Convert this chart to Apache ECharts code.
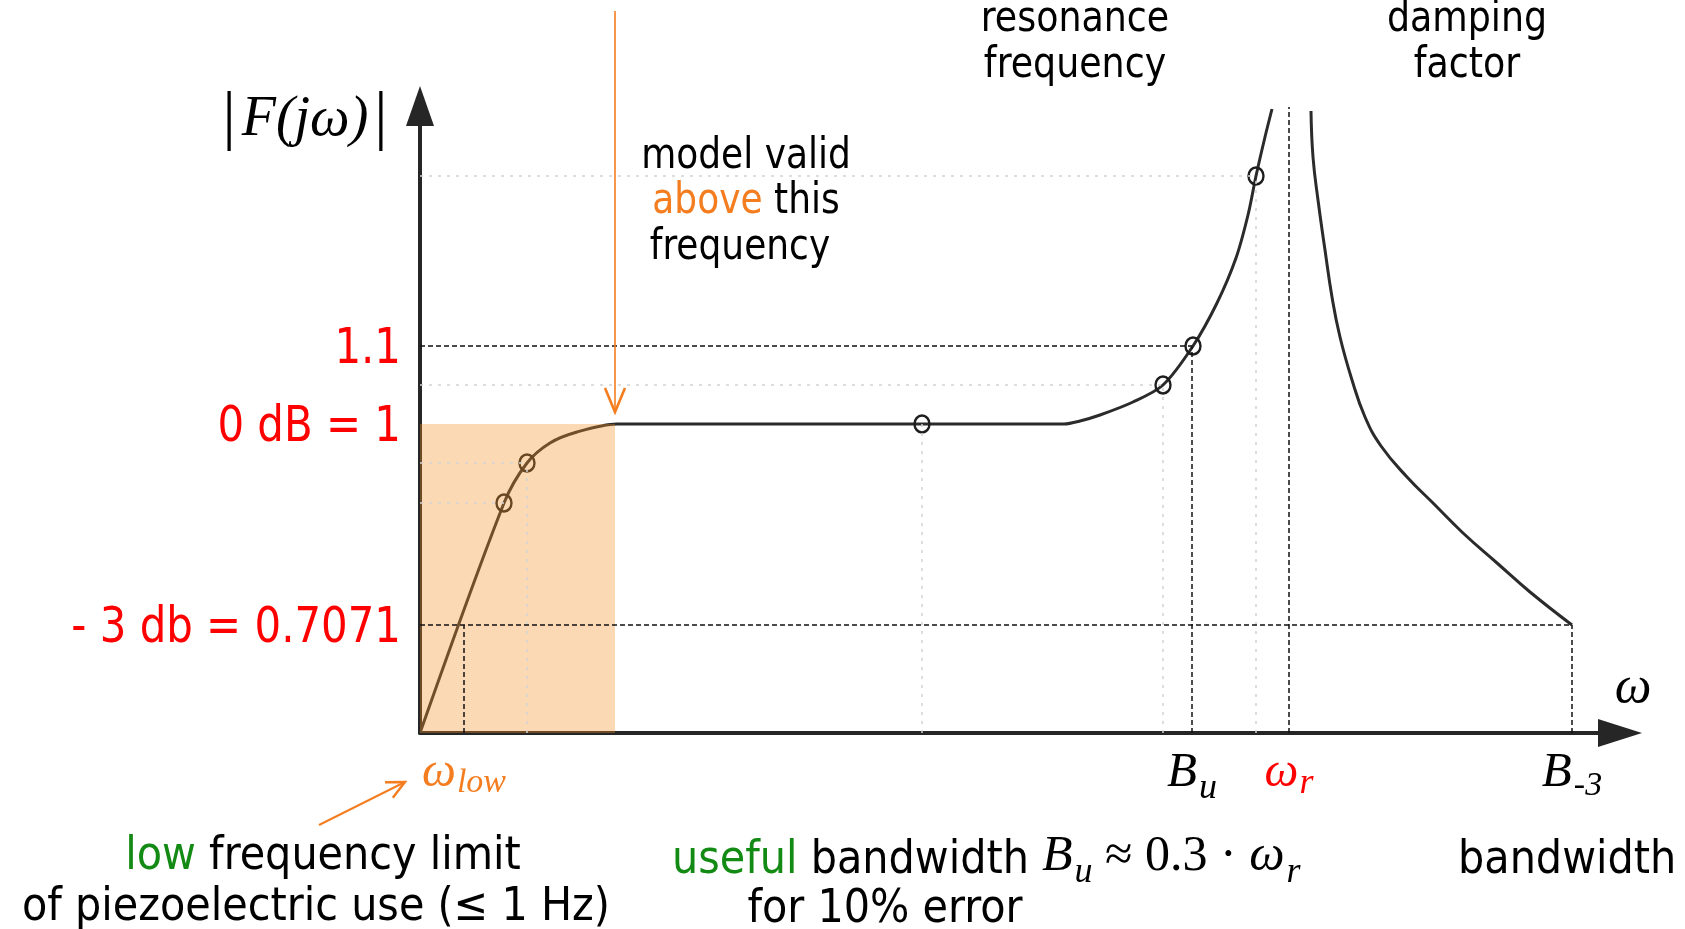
<!DOCTYPE html>
<html>
<head>
<meta charset="utf-8">
<title>Piezoelectric sensor frequency response</title>
<script src="https://cdn.jsdelivr.net/npm/echarts@6.0.0/dist/echarts.min.js"></script>
<style>
html, body { margin: 0; padding: 0; background: #fff; }
#chart { width: 1685px; height: 929px; }
</style>
</head>
<body>
<div id="chart"></div>
<script>
// schematic units: x = distance right of the |F| axis, y = height above the omega axis
var responseRise = [[0, 0], [84, 230], [107, 270], [130, 290], [157, 301], [197, 309],
  [502, 309], [644, 309], [660, 312], [680, 318], [713, 331], [743, 348], [773, 387], [797, 430],
  [816, 475], [828, 518], [836, 557], [845, 596], [852, 624]];
var responseFall = [[891, 622], [893, 576], [898, 533], [905, 483], [912, 436], [920, 396], [932, 353],
  [945, 316], [961, 287], [987, 256], [1013, 230], [1043, 200], [1077, 170], [1110, 141], [1152, 108]];
var markedPoints = [[84, 230], [107, 270], [502, 309], [743, 348], [773, 387], [836, 557]];

var levelValues = [108, 309, 387];
var levelLabels = ['- 3 db = 0.7071', '0 dB = 1', '1.1'];
var freqValues = [44, 772, 869, 1152];
var freqLabels = ['{wo|ω}{so|low}', '{b|B}{s|u}', '{wr|ω}{sr|r}', '{b|B}{s3|-3}'];
var modelValidFreq = 195;
var resonanceTop = 626;

var SANS = '"DejaVu Sans Condensed", "DejaVu Sans", sans-serif';
var SERIF = '"Liberation Serif", "DejaVu Serif", serif';
var INK = '#262626';
var ORANGE = '#f47d20';
var RED = '#ff0000';
var GREEN = '#138a13';

var chart = echarts.init(document.getElementById('chart'));

function guide(x1, y1, x2, y2, style) {
  return [{ coord: [x1, y1], lineStyle: style }, { coord: [x2, y2] }];
}
var darkThin = { color: '#111', width: 1.5, type: [5, 3] };
var light = { color: '#d2d2d2', width: 1.5, type: [3, 6] };
var p = markedPoints;

var darkGuides = [
  guide(0, levelValues[2], freqValues[1], levelValues[2], darkThin),
  guide(freqValues[1], 0, freqValues[1], levelValues[2], darkThin),
  guide(0, levelValues[0], freqValues[3], levelValues[0], darkThin),
  guide(freqValues[0], 0, freqValues[0], levelValues[0], darkThin),
  guide(freqValues[3], 0, freqValues[3], levelValues[0], darkThin),
  guide(freqValues[2], 0, freqValues[2], resonanceTop, darkThin)
];
var lightGuides = [
  guide(0, p[5][1], p[5][0], p[5][1], light), guide(p[5][0], 0, p[5][0], p[5][1], light),
  guide(0, p[3][1], p[3][0], p[3][1], light), guide(p[3][0], 0, p[3][0], p[3][1], light),
  guide(0, p[1][1], p[1][0], p[1][1], light), guide(p[1][0], 0, p[1][0], p[1][1], light),
  guide(0, p[0][1], p[0][0], p[0][1], light), guide(p[2][0], 0, p[2][0], p[2][1], light)
];

// text placed at (x, y); sx squeezes it horizontally like the narrow slide font
function txt(x, y, text, size, sx, align, rich) {
  return {
    type: 'text', x: x, y: y, scaleX: sx, silent: true, z: 10,
    style: {
      text: text, fontSize: size, fontFamily: SANS, fill: '#000',
      align: align || 'center', verticalAlign: 'middle', rich: rich || {}
    }
  };
}

var bottomRich = {
  g: { fill: GREEN, fontSize: 46, fontFamily: SANS },
  t: { fill: '#000', fontSize: 46, fontFamily: SANS },
  mi: { fill: '#000', fontSize: 50, fontFamily: SERIF, fontStyle: 'italic', verticalAlign: 'top', padding: [1, 0, 0, 0] },
  m: { fill: '#000', fontSize: 50, fontFamily: SERIF, verticalAlign: 'top', padding: [1, 0, 0, 0] },
  ms: { fill: '#000', fontSize: 36, fontFamily: SERIF, fontStyle: 'italic', verticalAlign: 'top', padding: [24, 0, 0, 2] }
};

// little orange arrow from the caption to omega_low
var a0 = [319, 825], a1 = [405, 782];
var ang = Math.atan2(a1[1] - a0[1], a1[0] - a0[0]);
function wing(s) {
  return [a1[0] - 20 * Math.cos(ang + s * 0.45), a1[1] - 20 * Math.sin(ang + s * 0.45)];
}

var option = {
  backgroundColor: '#fff',
  animation: false,
  grid: { left: 420, right: 65, top: 106, bottom: 196, containLabel: false, outerBoundsMode: 'none' },
  xAxis: {
    type: 'value', min: 0, max: 1200,
    axisLine: { show: true, symbol: ['none', 'triangle'], symbolSize: [28, 44], lineStyle: { color: INK, width: 4 } },
    axisTick: { show: false },
    splitLine: { show: false },
    axisLabel: {
      customValues: freqValues, margin: 16,
      formatter: function (v) { return freqLabels[freqValues.indexOf(v)] || ''; },
      rich: {
        b: { fontFamily: SERIF, fontStyle: 'italic', fontSize: 49, color: '#000', verticalAlign: 'top' },
        s: { fontFamily: SERIF, fontStyle: 'italic', fontSize: 36, color: '#000', verticalAlign: 'top', padding: [22, 0, 0, 2] },
        s3: { fontFamily: SERIF, fontStyle: 'italic', fontSize: 34, color: '#000', verticalAlign: 'top', padding: [20, 0, 0, 2] },
        wo: { fontFamily: SERIF, fontStyle: 'italic', fontSize: 48, color: ORANGE, verticalAlign: 'top' },
        so: { fontFamily: SERIF, fontStyle: 'italic', fontSize: 34, color: ORANGE, verticalAlign: 'top', padding: [17, 0, 0, 1] },
        wr: { fontFamily: SERIF, fontStyle: 'italic', fontSize: 48, color: RED, verticalAlign: 'top' },
        sr: { fontFamily: SERIF, fontStyle: 'italic', fontSize: 36, color: RED, verticalAlign: 'top', padding: [17, 0, 0, 1] }
      }
    }
  },
  yAxis: {
    type: 'value', min: 0, max: 627,
    axisLine: { show: true, symbol: ['none', 'triangle'], symbolSize: [28, 40], lineStyle: { color: INK, width: 4 } },
    axisTick: { show: false },
    splitLine: { show: false },
    axisLabel: { show: false }
  },
  series: [
    {
      name: 'response (rise)', type: 'line', data: responseRise, z: 2,
      smooth: 0.3, showSymbol: false, silent: true,
      lineStyle: { color: '#2b2b2b', width: 3 },
      markLine: {
        silent: true, symbol: ['none', 'none'], label: { show: false },
        data: lightGuides.concat(darkGuides)
      }
    },
    {
      name: 'response (fall)', type: 'line', data: responseFall, z: 2,
      smooth: 0.45, showSymbol: false, silent: true,
      lineStyle: { color: '#2b2b2b', width: 3 }
    },
    {
      name: 'points', type: 'scatter', data: markedPoints, z: 2, silent: true,
      symbol: 'circle', symbolSize: [15, 17],
      itemStyle: { color: 'rgba(0,0,0,0)', borderColor: '#1e1e1e', borderWidth: 2.5, opacity: 1 }
    },
    {
      name: 'valid band', type: 'custom', z: 3, silent: true,
      data: [[modelValidFreq, levelValues[1]]],
      renderItem: function (params, api) {
        var o = api.coord([0, 0]);
        var c = api.coord([api.value(0), api.value(1)]);
        return {
          type: 'rect',
          shape: { x: o[0], y: c[1], width: c[0] - o[0], height: o[1] - c[1] },
          style: { fill: 'rgba(246,146,44,0.35)' }
        };
      }
    },
    {
      name: '0 dB', type: 'line', data: [], z: 4, silent: true,
      markLine: {
        silent: true, symbol: ['none', 'none'], label: { show: false },
        data: [guide(-6, levelValues[1], modelValidFreq, levelValues[1], { color: '#000', width: 3.5, type: [9, 5] })]
      }
    },
    {
      name: 'level labels', type: 'custom', z: 5, silent: true, clip: false,
      data: levelValues.map(function (v) { return [0, v]; }),
      renderItem: function (params, api) {
        var c = api.coord([api.value(0), api.value(1)]);
        return {
          type: 'text', x: c[0] - 19, y: c[1] + 4, scaleX: 0.95,
          style: {
            text: levelLabels[params.dataIndex], fill: RED, fontSize: 49, fontFamily: SANS,
            align: 'right', verticalAlign: 'middle'
          }
        };
      }
    },
    {
      name: 'model valid arrow', type: 'custom', z: 5, silent: true, clip: false,
      data: [[modelValidFreq, 321]],
      renderItem: function (params, api) {
        var top = api.coord([api.value(0), 722]);
        var tip = api.coord([api.value(0), api.value(1)]);
        return {
          type: 'group',
          children: [
            { type: 'line', shape: { x1: top[0], y1: top[1], x2: tip[0], y2: tip[1] }, style: { stroke: ORANGE, lineWidth: 1.6 } },
            { type: 'polyline', shape: { points: [[tip[0] - 10, tip[1] - 24], [tip[0], tip[1]], [tip[0] + 10, tip[1] - 24]] },
              style: { stroke: ORANGE, lineWidth: 2.6, fill: null } }
          ]
        };
      }
    }
  ],
  graphic: [
    {
      type: 'text', x: 305, y: 120, silent: true,
      style: {
        text: '{bar||}{f|F(jω)}{bar||}', align: 'center', verticalAlign: 'middle',
        rich: {
          bar: { fontSize: 66, fontFamily: SERIF, fill: '#000' },
          f: { fontSize: 56, fontFamily: SERIF, fontStyle: 'italic', fill: '#000', padding: [0, 6, 0, 6] }
        }
      }
    },
    { type: 'text', x: 1633, y: 688, silent: true,
      style: { text: 'ω', fontSize: 52, fontFamily: SERIF, fontStyle: 'italic', fill: '#000', align: 'center', verticalAlign: 'middle' } },
    txt(746, 157, 'model valid', 43, 0.93),
    txt(746, 202, '{o|above} this', 43, 0.93, 'center', { o: { fill: ORANGE, fontSize: 43, fontFamily: SANS } }),
    txt(740, 248, 'frequency', 43, 0.93),
    txt(1075, 20, 'resonance', 43, 0.94),
    txt(1075, 66, 'frequency', 43, 0.94),
    txt(1467, 20, 'damping', 43, 0.94),
    txt(1467, 66, 'factor', 43, 0.94),
    txt(323, 857, '{g|low} frequency limit', 46, 1, 'center', bottomRich),
    txt(316, 908, 'of piezoelectric use (≤ 1 Hz)', 46, 1),
    txt(672, 861, '{g|useful}{t| bandwidth }{mi|B}{ms|u}{m| ≈ 0.3 · }{mi|ω}{ms|r}', 46, 1, 'left', bottomRich),
    txt(885, 910, 'for 10% error', 46, 1),
    txt(1458, 861, 'bandwidth', 46, 1, 'left'),
    { type: 'polyline', silent: true, shape: { points: [a0, a1] }, style: { stroke: ORANGE, lineWidth: 2 } },
    { type: 'polyline', silent: true, shape: { points: [wing(1), a1, wing(-1)] }, style: { stroke: ORANGE, lineWidth: 2.4, fill: null } }
  ]
};

chart.setOption(option);
</script>
</body>
</html>
